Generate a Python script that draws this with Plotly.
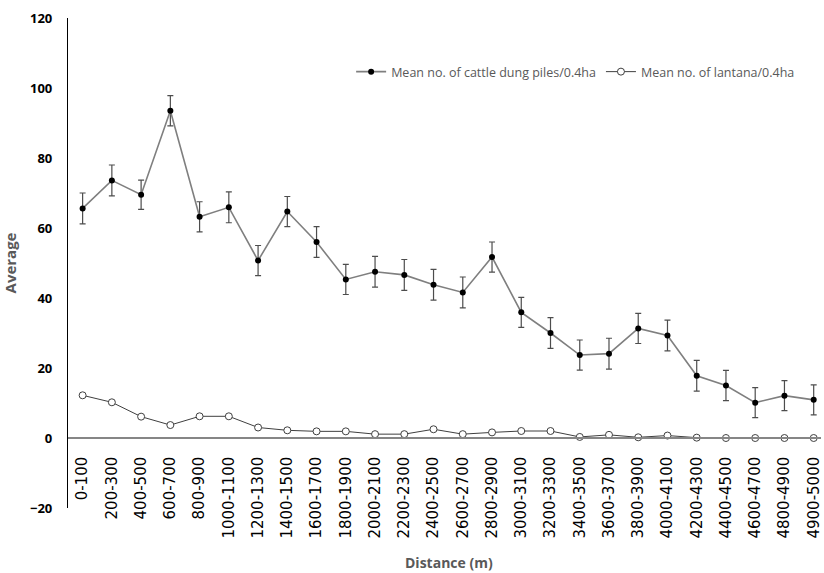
import plotly.graph_objects as go

# Distance bands along the transect
distance = ["0-100", "200-300", "400-500", "600-700", "800-900", "1000-1100",
            "1200-1300", "1400-1500", "1600-1700", "1800-1900", "2000-2100",
            "2200-2300", "2400-2500", "2600-2700", "2800-2900", "3000-3100",
            "3200-3300", "3400-3500", "3600-3700", "3800-3900", "4000-4100",
            "4200-4300", "4400-4500", "4600-4700", "4800-4900", "4900-5000"]

# Mean number of cattle dung piles per 0.4 ha, with standard error
dung_mean = [65.6, 73.6, 69.5, 93.5, 63.2, 65.9, 50.7, 64.7, 56.0, 45.3,
             47.5, 46.6, 43.8, 41.6, 51.7, 35.9, 30.0, 23.7, 24.1, 31.3,
             29.3, 17.8, 15.0, 10.1, 12.1, 10.9]
dung_err = [4.4, 4.4, 4.2, 4.3, 4.3, 4.4, 4.3, 4.3, 4.4, 4.3,
            4.4, 4.4, 4.4, 4.4, 4.3, 4.3, 4.4, 4.3, 4.4, 4.3,
            4.4, 4.4, 4.3, 4.3, 4.3, 4.3]

# Mean number of lantana plants per 0.4 ha
lantana_mean = [12.2, 10.2, 6.1, 3.7, 6.2, 6.2, 3.0, 2.2, 1.9, 1.9,
                1.1, 1.1, 2.5, 1.1, 1.6, 2.0, 2.0, 0.3, 0.9, 0.2,
                0.7, 0.1, 0.0, 0.0, 0.0, 0.0]

y_ticks = [-20, 0, 20, 40, 60, 80, 100, 120]

fig = go.Figure()

fig.add_trace(go.Scatter(
    x=distance, y=dung_mean, mode="lines+markers",
    name="Mean no. of cattle dung piles/0.4ha",
    line=dict(color="#7f7f7f", width=1.6),
    marker=dict(color="#000000", size=6, line=dict(width=0)),
    error_y=dict(type="data", array=dung_err, visible=True,
                 color="#4d4d4d", thickness=1.2, width=3),
))

fig.add_trace(go.Scatter(
    x=distance, y=lantana_mean, mode="lines+markers",
    name="Mean no. of lantana/0.4ha",
    line=dict(color="#3f3f3f", width=1),
    marker=dict(color="#ffffff", size=7, line=dict(color="#3f3f3f", width=1)),
))

fig.update_layout(
    width=824, height=573,
    margin=dict(l=68, r=1, t=18, b=65),
    plot_bgcolor="#ffffff", paper_bgcolor="#ffffff",
    showlegend=True,
    legend=dict(orientation="h", x=0.376, y=(508 - 72) / 490, xanchor="left", yanchor="middle",
                font=dict(family="Open Sans", size=12.5, color="#595959"),
                itemwidth=30, bgcolor="rgba(0,0,0,0)", tracegroupgap=0),
    xaxis=dict(
        type="category", range=[-0.5, 25.25],
        anchor="free", position=20 / 140,
        showline=True, linecolor="#868686", linewidth=1.5,
        showgrid=False, zeroline=False, ticks="",
        tickangle=-90, ticklabelstandoff=12,
        tickfont=dict(family="DejaVu Sans", size=15, color="#000000"),
    ),
    yaxis=dict(
        range=[-20, 120], tickvals=y_ticks,
        showline=True, linecolor="#000000", linewidth=1.2,
        showgrid=False, zeroline=False, ticks="",
        ticklabelstandoff=12,
        tickfont=dict(family="Open Sans", size=13, color="#000000", weight="bold"),
        title=dict(text="Average", standoff=11,
                   font=dict(family="Open Sans", size=15, color="#595959", weight="bold")),
    ),
)

fig.add_annotation(
    text="Distance (m)", xref="paper", yref="paper",
    x=(450 - 68) / 755, y=-(562 - 508) / 490,
    xanchor="center", yanchor="middle", showarrow=False,
    font=dict(family="Open Sans", size=14, color="#595959", weight="bold"),
)

fig.write_html("out.html")
